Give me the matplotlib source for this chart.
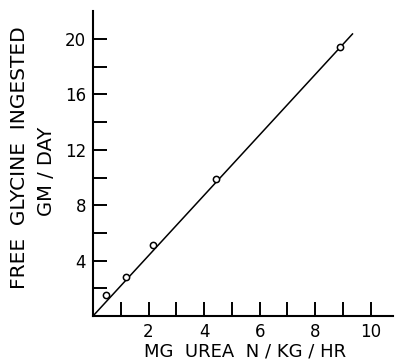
import matplotlib
matplotlib.use("Agg")
import matplotlib.pyplot as plt
import numpy as np

# Urea nitrogen excretion vs free glycine ingested
urea_n = [0.47, 1.19, 2.15, 4.41, 8.88]
glycine = [1.5, 2.8, 5.1, 9.9, 19.4]

# fitted line through the origin
fit_x = [0.0, 9.36]
fit_slope = 2.18

x_major = [2, 4, 6, 8, 10]
x_minor = [1, 3, 5, 7, 9]
y_major = [4, 8, 12, 16, 20]
y_minor = [2, 6, 10, 14, 18]

W, H = 395, 360
fig = plt.figure(figsize=(W / 100, H / 100), dpi=100)
ax = fig.add_axes([93 / W, 44 / H, 300 / W, 304.7 / H])

ax.plot(fit_x, [v * fit_slope for v in fit_x], color="black", lw=1.1,
        solid_capstyle="butt", zorder=2)
ax.plot(urea_n, glycine, linestyle="none", marker="o", markersize=4.5,
        markerfacecolor="white", markeredgecolor="black", markeredgewidth=1.1,
        zorder=3)

ax.set_xlim(0, 10.8)
ax.set_ylim(0, 22)

for s in ("top", "right"):
    ax.spines[s].set_visible(False)
for s in ("left", "bottom"):
    ax.spines[s].set_linewidth(1.5)
    ax.spines[s].set_color("black")

ax.set_xticks(x_major)
ax.set_xticks(x_minor, minor=True)
ax.set_yticks(y_major)
ax.set_yticks(y_minor, minor=True)
ax.set_xticklabels([str(v) for v in x_major])
ax.set_yticklabels([str(v) for v in y_major])

ax.tick_params(axis="both", which="both", direction="in", length=10,
               width=1.4, color="black")
ax.tick_params(axis="x", which="major", pad=5, labelsize=12)
ax.tick_params(axis="y", which="major", pad=5, labelsize=12)

fig.text(245 / W, 1 - 352 / H, "MG  UREA  N / KG / HR", ha="center",
         va="center", fontsize=13)
fig.text(20 / W, 1 - 158 / H, "FREE  GLYCINE  INGESTED", rotation=90,
         ha="center", va="center", fontsize=14.5)
fig.text(47 / W, 1 - 171 / H, "GM / DAY", rotation=90,
         ha="center", va="center", fontsize=14)

fig.savefig("out.png", dpi=100)
